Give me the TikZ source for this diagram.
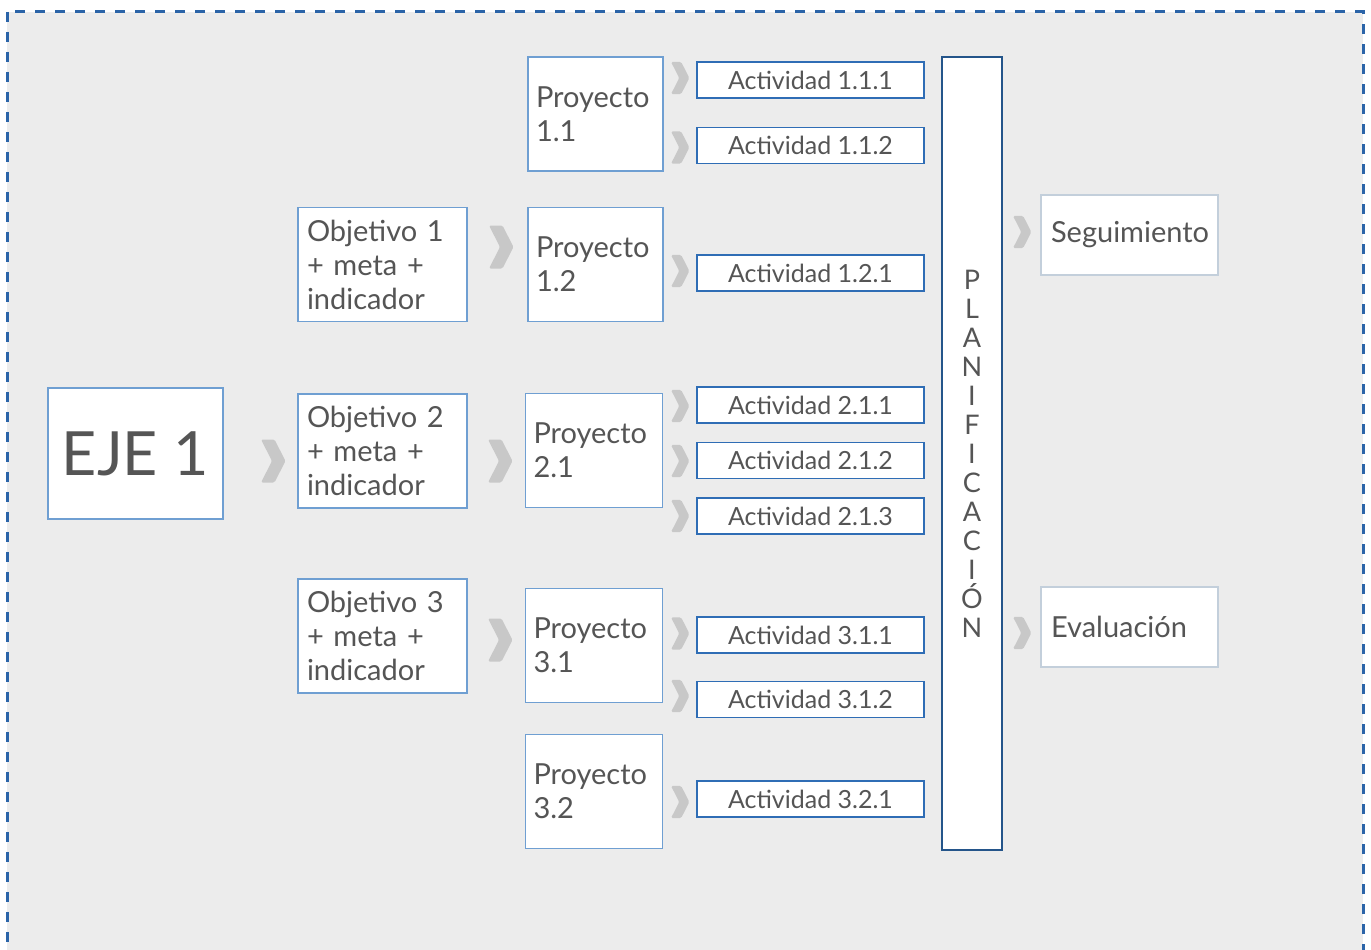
\documentclass[tikz,border=0pt]{standalone}
\usepackage{fontspec}
\setmainfont{Lato}
\usepackage{xcolor}
\usetikzlibrary{positioning, calc}

\definecolor{fondo}{HTML}{ECECEC}
\definecolor{marco}{HTML}{2B64A8}
\definecolor{bordeclaro}{HTML}{6F9FD2}
\definecolor{bordeact}{HTML}{2F6DB5}
\definecolor{bordeplan}{HTML}{24558A}
\definecolor{bordegris}{HTML}{C3CFDB}
\definecolor{flecha}{HTML}{C8C8C8}
\definecolor{texto}{HTML}{555555}

\tikzstyle{eje} = [rectangle, 
fill=white, draw=bordeclaro, line width=1.2pt, 
minimum width=175pt, 
minimum height=131pt, 
text=texto, font=\fontsize{61}{66}\selectfont]
\tikzstyle{objetivo} = [rectangle, 
fill=white, draw=bordeclaro, line width=1.2pt, 
minimum width=169pt, 
minimum height=114pt, 
text width=151pt, inner xsep=9pt, align=left, 
text=texto, font=\fontsize{29}{34}\selectfont]
\tikzstyle{proyecto} = [objetivo, 
minimum width=137pt, 
text width=121pt, inner xsep=8pt]
\tikzstyle{actividad} = [rectangle, 
fill=white, draw=bordeact, line width=1.5pt, 
minimum width=227pt, 
minimum height=36pt, inner sep=0pt, 
text=texto, font=\fontsize{25}{25}\selectfont]
\tikzstyle{planif} = [rectangle, 
fill=white, draw=bordeplan, line width=2.5pt, 
minimum width=60pt, 
minimum height=793pt, inner sep=0pt, align=center, 
text=texto, font=\fontsize{27}{29}\selectfont]
\tikzstyle{resultado} = [rectangle, 
fill=white, draw=bordegris, line width=2.5pt, 
minimum width=177pt, 
minimum height=80pt, 
text width=157pt, inner xsep=10pt, align=left, 
text=texto, font=\fontsize{29}{32}\selectfont]
\tikzset{
  chevron/.pic={
    \fill[flecha, rounded corners=1.5pt] (-12,-21.5) -- (1.5,-21.5) -- (12.5,0) -- (1.5,21.5) -- (-12,21.5) -- (-1,0) -- cycle;
  }
}

\begin{document}
\begin{tikzpicture}[x=1pt, y=-1pt]
        \useasboundingbox (0,0) rectangle (1371,950);
        \clip (0,0) rectangle (1371,950);
        % Fondo y marco punteado
        \fill[white] (0,0) rectangle (1371,950);
        \fill[fondo] (7,12) rectangle (1363,975);
        \draw[marco, line width=3pt, dash pattern=on 10pt off 10pt] (7,12) rectangle (1363,975);

        % Eje y objetivos
        \node [eje] (eje) at (135.5,453.5) {EJE 1};
        \node [objetivo] (obj1) at (382.5,264.5) {Objetivo 1\\+ meta +\\indicador};
        \node [objetivo] (obj2) at (382.5,451) {Objetivo 2\\+ meta +\\indicador};
        \node [objetivo] (obj3) at (382.5,636) {Objetivo 3\\+ meta +\\indicador};

        % Proyectos
        \node [proyecto, minimum width=135pt, text width=119pt] (p11) at (595.5,114) {Proyecto\\1.1};
        \node [proyecto, minimum width=135pt, text width=119pt] (p12) at (595.5,264.5) {Proyecto\\1.2};
        \node [proyecto] (p21) at (594,450.5) {Proyecto\\2.1};
        \node [proyecto] (p31) at (594,645.5) {Proyecto\\3.1};
        \node [proyecto] (p32) at (594,791.5) {Proyecto\\3.2};

        % Actividades
        \node [actividad] (a111) at (810.5,80) {Actividad 1.1.1};
        \node [actividad, below=28pt of a111] (a112) {Actividad 1.1.2};
        \node [actividad] (a121) at (810.5,273) {Actividad 1.2.1};
        \node [actividad] (a211) at (810.5,405) {Actividad 2.1.1};
        \node [actividad, below=18pt of a211] (a212) {Actividad 2.1.2};
        \node [actividad, below=18pt of a212] (a213) {Actividad 2.1.3};
        \node [actividad] (a311) at (810.5,635) {Actividad 3.1.1};
        \node [actividad, below=27pt of a311] (a312) {Actividad 3.1.2};
        \node [actividad] (a321) at (810.5,799) {Actividad 3.2.1};

        % Planificacion, seguimiento y evaluacion
        \node [planif] (plan) at (972,453.5) {P\\L\\A\\N\\I\\F\\I\\C\\A\\C\\I\\Ó\\N};
        \node [resultado] (seg) at (1129.5,235) {Seguimiento};
        \node [resultado] (eval) at (1129.5,627) {Evaluación};

        % Flechas (chevrones)
        \pic (c0) at (273,461) {chevron};
        \pic (c1) at (501,247) {chevron};
        \pic (c2) at (500,461) {chevron};
        \pic (c3) at (500,640) {chevron};
        \pic [scale=0.75] (c4) at (680,78) {chevron};
        \pic [scale=0.75] (c5) at (680,147.5) {chevron};
        \pic [scale=0.75] (c6) at (680,271) {chevron};
        \pic [scale=0.75] (c7) at (680,406) {chevron};
        \pic [scale=0.75] (c8) at (680,461) {chevron};
        \pic [scale=0.75] (c9) at (680,516) {chevron};
        \pic [scale=0.75] (c10) at (680,633.5) {chevron};
        \pic [scale=0.75] (c11) at (680,696) {chevron};
        \pic [scale=0.75] (c12) at (680,802) {chevron};
        \pic [scale=0.75] (c13) at (1022,232) {chevron};
        \pic [scale=0.75] (c14) at (1022,633) {chevron};
    \end{tikzpicture}
\end{document}
